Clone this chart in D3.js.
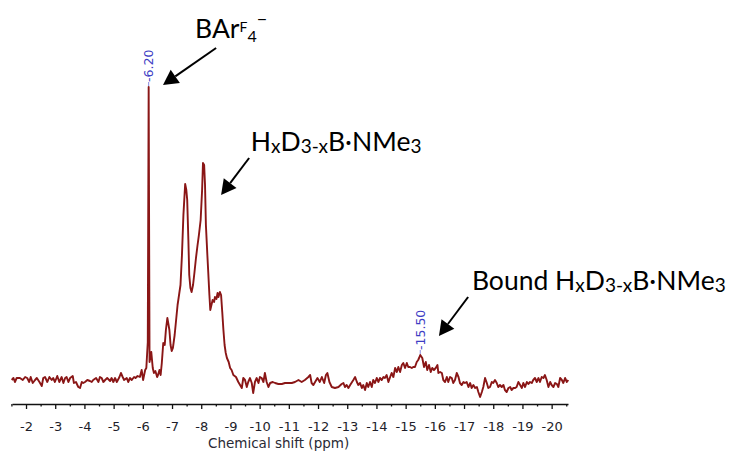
<!DOCTYPE html>
<html><head><meta charset="utf-8">
<script src="https://cdn.jsdelivr.net/npm/d3@7"></script>
<style>body{margin:0;background:#fff}svg{display:block}</style>
</head><body>
<svg id="chart" width="733" height="452"></svg>
<script>
// chemical shift (ppm) of each sampled point
const shift = [
-1.51,-1.57,-1.62,-1.68,-1.79,-1.89,-1.97,-2.04,-2.11,-2.16,
-2.23,-2.31,-2.37,-2.46,-2.54,-2.59,-2.65,-2.73,-2.80,-2.88,
-2.93,-2.99,-3.07,-3.14,-3.22,-3.28,-3.34,-3.39,-3.45,-3.51,
-3.60,-3.64,-3.71,-3.79,-3.85,-3.91,-3.96,-4.02,-4.10,-4.19,
-4.25,-4.30,-4.40,-4.48,-4.53,-4.59,-4.65,-4.71,-4.78,-4.88,
-4.93,-4.99,-5.05,-5.11,-5.20,-5.25,-5.31,-5.36,-5.45,-5.50,
-5.56,-5.62,-5.70,-5.75,-5.82,-5.90,-5.96,-6.01,-6.08,-6.12,
-6.17,-6.20,-6.23,-6.29,-6.34,-6.38,-6.43,-6.49,-6.52,-6.57,
-6.61,-6.65,-6.70,-6.75,-6.79,-6.84,-6.87,-6.91,-6.95,-6.99,
-7.03,-7.09,-7.14,-7.19,-7.24,-7.29,-7.34,-7.39,-7.45,-7.49,
-7.52,-7.56,-7.59,-7.63,-7.67,-7.72,-7.77,-7.82,-7.87,-7.92,
-7.98,-8.03,-8.06,-8.10,-8.13,-8.16,-8.21,-8.24,-8.28,-8.31,
-8.35,-8.39,-8.44,-8.47,-8.52,-8.56,-8.59,-8.64,-8.68,-8.72,
-8.76,-8.80,-8.84,-8.88,-8.94,-8.99,-9.04,-9.10,-9.19,-9.27,
-9.33,-9.39,-9.44,-9.50,-9.56,-9.61,-9.67,-9.73,-9.78,-9.84,
-9.90,-9.96,-10.01,-10.07,-10.13,-10.18,-10.24,-10.30,-10.36,-10.45,
-10.53,-10.64,-10.76,-10.87,-10.98,-11.10,-11.21,-11.33,-11.44,-11.55,
-11.67,-11.73,-11.78,-11.84,-11.90,-11.98,-12.06,-12.13,-12.21,-12.27,
-12.32,-12.39,-12.47,-12.58,-12.70,-12.81,-12.87,-12.92,-12.98,-13.04,
-13.10,-13.21,-13.27,-13.33,-13.38,-13.44,-13.50,-13.55,-13.61,-13.67,
-13.72,-13.78,-13.84,-13.89,-13.95,-14.01,-14.07,-14.12,-14.18,-14.24,
-14.29,-14.35,-14.41,-14.47,-14.52,-14.58,-14.64,-14.70,-14.75,-14.81,
-14.87,-14.92,-14.98,-15.04,-15.09,-15.15,-15.21,-15.26,-15.32,-15.38,
-15.43,-15.46,-15.50,-15.57,-15.63,-15.69,-15.74,-15.80,-15.86,-15.91,
-15.97,-16.03,-16.09,-16.12,-16.18,-16.24,-16.29,-16.35,-16.41,-16.46,
-16.52,-16.58,-16.63,-16.69,-16.75,-16.81,-16.86,-16.92,-16.98,-17.03,
-17.09,-17.15,-17.21,-17.26,-17.32,-17.38,-17.44,-17.49,-17.55,-17.61,
-17.66,-17.72,-17.78,-17.83,-17.89,-17.95,-18.00,-18.06,-18.12,-18.17,
-18.23,-18.29,-18.35,-18.40,-18.46,-18.52,-18.58,-18.63,-18.69,-18.75,
-18.80,-18.86,-18.92,-18.98,-19.03,-19.09,-19.15,-19.20,-19.26,-19.32,
-19.37,-19.43,-19.49,-19.55,-19.60,-19.66,-19.72,-19.77,-19.83,-19.89,
-19.95,-20.00,-20.06,-20.12,-20.18,-20.23,-20.29,-20.35,-20.40,-20.46,
-20.52,-20.57];
// signal intensity (arbitrary units)
const intensity = [
2,4,0,4,4,2,5,4,0,5,
-1,2,4,0,-4,4,5,0,5,2,
4,0,6,0,5,-1,4,5,0,4,
6,-1,0,-5,-6,0,-1,0,2,1,
0,2,4,0,5,4,0,2,4,1,
4,0,4,0,5,9,5,2,4,0,
4,2,5,4,6,5,12,2,12,14,
40,295,20,30,14,9,11,5,7,12,
7,19,39,37,52,64,59,52,37,31,
34,47,62,77,87,97,127,167,198,192,
182,142,107,94,90,97,110,124,136,147,
162,192,219,217,197,157,127,110,87,72,
77,82,80,85,83,89,85,90,87,70,
52,37,29,24,20,14,12,7,5,0,
-3,-6,4,2,-5,0,4,-1,-11,0,
4,-1,5,4,0,9,0,-5,-1,0,
-1,-2,-2,-1,-1,-1,0,2,0,2,
5,7,-1,-3,0,4,0,5,-1,7,
9,0,-5,-6,-5,-2,-1,-5,-3,-6,
-3,2,5,0,-3,-1,-6,-3,-8,-1,
-5,0,-5,2,-1,4,0,4,2,5,
4,7,0,5,9,5,14,10,15,10,
17,19,14,19,15,15,14,15,15,20,
22,24,27,24,15,20,12,17,10,14,
12,14,17,9,10,9,2,0,5,0,
5,4,-1,2,9,5,-1,-3,0,-1,
0,-5,-1,-6,-3,-6,-5,-10,-15,-10,
-5,4,-1,-6,-5,0,-1,2,-1,-5,
-3,-5,-3,-8,-10,-6,-5,-8,-6,-6,
-5,0,-3,-6,-1,-5,0,-2,0,-1,
2,4,0,4,0,5,4,7,2,-5,
0,-3,-5,-1,-2,-5,4,2,-1,4,
0,2];

const majorTicks = [-2,-3,-4,-5,-6,-7,-8,-9,-10,-11,-12,-13,-14,-15,-16,-17,-18,-19,-20];
const minorTicks = [-1.5,-2.5,-3.5,-4.5,-5.5,-6.5,-7.5,-8.5,-9.5,-10.5,-11.5,-12.5,-13.5,-14.5,-15.5,-16.5,-17.5,-18.5,-19.5,-20.5];
const axisTitle = "Chemical shift (ppm)";

const peakShifts = [-6.20, -15.50];
const peakTexts = ["-6.20", "-15.50"];

// annotations: label anchor and arrow tail/tip in data coordinates
const annoTextPos = [[-7.79, 344], [-9.70, 231], [-17.27, 92]];
const arrowTail = [[-8.51, 334], [-9.64, 224], [-17.14, 85]];
const arrowTip  = [[-6.69, 297], [-8.68, 187], [-16.14, 46]];

const svg = d3.select("#chart");
const x = d3.scaleLinear().domain([-1.52, -20.56]).range([12, 568]);
const y = d3.scaleLinear().domain([0, 295]).range([382, 87]);

const data = shift.map((s, i) => ({s, v: intensity[i]}));

// spectrum
svg.append("path")
  .datum(data)
  .attr("fill", "none")
  .attr("stroke", "#8a1616")
  .attr("stroke-width", 1.9)
  .attr("stroke-linejoin", "round")
  .attr("d", d3.line().x(d => x(d.s)).y(d => y(d.v)));

// axis
const axisY = 404;
const gAxis = svg.append("g").attr("transform", `translate(0,${axisY})`)
  .call(d3.axisBottom(x).tickValues(majorTicks).tickSize(5).tickSizeOuter(0).tickPadding(13).tickFormat(d => String(d)));
gAxis.select(".domain").attr("stroke", "#111").attr("stroke-width", 1.5);
gAxis.selectAll(".tick line").attr("stroke", "#111").attr("stroke-width", 1.3);
gAxis.selectAll(".tick text").attr("font-family", "DejaVu Sans").attr("font-size", 13).attr("fill", "#1e1e2a");
const gMinor = svg.append("g").attr("transform", `translate(0,${axisY})`)
  .call(d3.axisBottom(x).tickValues(minorTicks).tickSize(2.5).tickSizeOuter(0).tickFormat(""));
gMinor.select(".domain").remove();
gMinor.selectAll(".tick line").attr("stroke", "#111").attr("stroke-width", 1.3);

svg.append("text")
  .attr("x", x(-10.65)).attr("y", 448)
  .attr("text-anchor", "middle")
  .attr("font-family", "DejaVu Sans").attr("font-size", 13.5).attr("fill", "#2a2a35")
  .text(axisTitle);

// peak labels
peakShifts.forEach((p, i) => {
  const idx = shift.indexOf(p);
  const px = x(p), py = y(intensity[idx]);
  svg.append("line").attr("x1", px).attr("x2", px).attr("y1", py - 1).attr("y2", py - 5)
    .attr("stroke", "#6b6bd6").attr("stroke-width", 0.8);
  svg.append("text")
    .attr("transform", `translate(${px + 4.5},${py - 5}) rotate(-90)`)
    .attr("font-family", "DejaVu Sans").attr("font-size", 12.5).attr("fill", "#3d3dc4")
    .text(peakTexts[i]);
});

// arrows
arrowTail.forEach((t, i) => {
  const x1 = x(t[0]), y1 = y(t[1]), x2 = x(arrowTip[i][0]), y2 = y(arrowTip[i][1]);
  const dx = x2 - x1, dy = y2 - y1, L = Math.hypot(dx, dy), ux = dx / L, uy = dy / L;
  const hl = 15, hw = 8;
  const bx = x2 - ux * hl, by = y2 - uy * hl;
  svg.append("line").attr("x1", x1).attr("y1", y1).attr("x2", bx).attr("y2", by)
    .attr("stroke", "#000").attr("stroke-width", 2);
  svg.append("path")
    .attr("d", `M${x2},${y2}L${bx - uy * hw},${by + ux * hw}L${bx + uy * hw},${by - ux * hw}Z`)
    .attr("fill", "#000");
});

// annotation texts
const fam = "Lato, 'Open Sans', sans-serif";
function annoText(i) {
  return svg.append("text")
    .attr("x", x(annoTextPos[i][0])).attr("y", y(annoTextPos[i][1]))
    .attr("font-family", fam).attr("font-size", 26.5).attr("fill", "#000");
}
// BArF4-
{
  const t = annoText(0);
  t.append("tspan").text("BAr");
  t.append("tspan").attr("font-size", 14).attr("dy", -6).text("F");
  t.append("tspan").attr("font-size", 16).attr("dy", 10).text("4");
  t.append("tspan").attr("font-size", 18).attr("dy", -17).text("\u2212");
}
function hxd(t) {
  t.append("tspan").text("H");
  t.append("tspan").attr("font-size", 19).attr("dy", 2).text("x");
  t.append("tspan").attr("dy", -2).text("D");
  t.append("tspan").attr("font-size", 19).attr("dy", 2).text("3-x");
  t.append("tspan").attr("dy", -2).text("B\u00B7NMe");
  t.append("tspan").attr("font-size", 19).attr("dy", 2).text("3");
}
hxd(annoText(1));
{
  const t = annoText(2);
  t.append("tspan").text("Bound ");
  hxd(t);
}
</script>
</body></html>
